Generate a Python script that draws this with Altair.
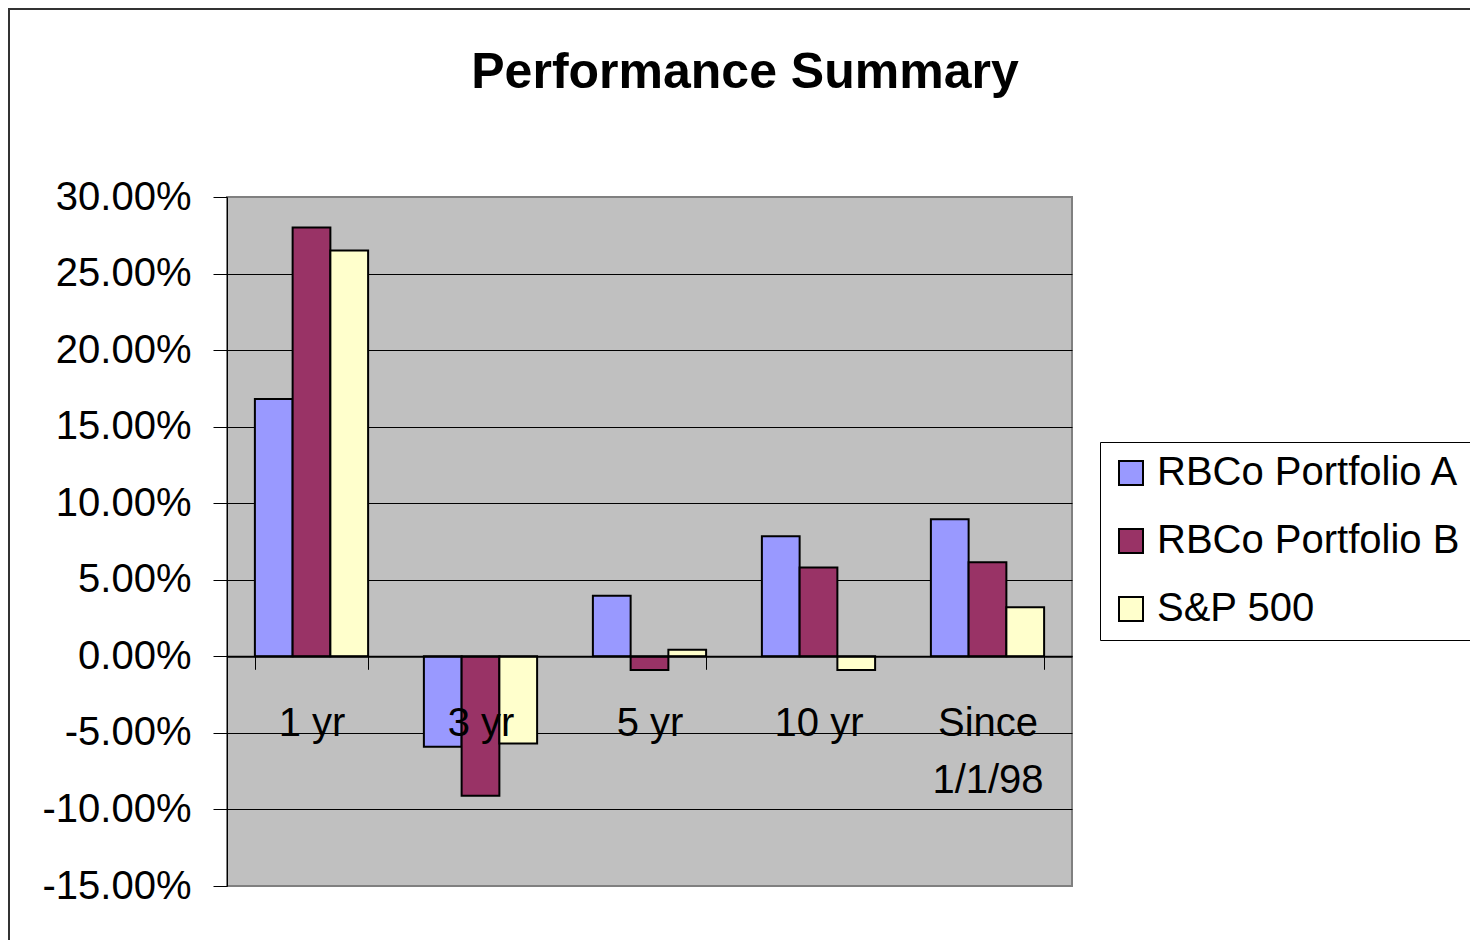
import altair as alt
import pandas as pd

TITLE = "Performance Summary"
periods = ["1 yr", "3 yr", "5 yr", "10 yr", "Since 1/1/98"]
series = ["RBCo Portfolio A", "RBCo Portfolio B", "S&P 500"]
colors = ["#9999FF", "#993366", "#FFFFCC"]
portfolio_a = [16.8, -5.9, 3.95, 7.85, 8.95]
portfolio_b = [28.0, -9.1, -0.9, 5.8, 6.15]
sp500 = [26.5, -5.7, 0.43, -0.9, 3.2]
y_ticks = [-15, -10, -5, 0, 5, 10, 15, 20, 25, 30]

rows = []
for name, vals in zip(series, [portfolio_a, portfolio_b, sp500]):
    for p, v in zip(periods, vals):
        rows.append({"period": p, "series": name, "value": v})
df = pd.DataFrame(rows)

FONT = "Liberation Sans"

bars = alt.Chart(df).mark_bar(stroke="black", strokeWidth=2, opacity=1).encode(
    x=alt.X(
        "period:N",
        sort=periods,
        scale=alt.Scale(paddingInner=0.33, paddingOuter=0.165),
        axis=alt.Axis(
            title=None,
            orient="bottom",
            offset=-229.7,
            tickBand="extent",
            tickSize=13,
            tickColor="black",
            tickWidth=1,
            domainColor="black",
            domainWidth=2,
            labelFont=FONT,
            labelFontSize=40,
            labelColor="black",
            labelAngle=0,
            labelPadding=34,
            labelLineHeight=57,
            labelExpr="datum.label == 'Since 1/1/98' ? ['Since', '1/1/98'] : datum.label",
            grid=False,
            zindex=1,
        ),
    ),
    xOffset=alt.XOffset("series:N", sort=series, scale=alt.Scale(paddingInner=0, paddingOuter=0)),
    y=alt.Y(
        "value:Q",
        scale=alt.Scale(domain=[-15, 30], nice=False, zero=False),
        axis=alt.Axis(
            title=None,
            values=y_ticks,
            tickSize=14,
            tickColor="black",
            domainColor="black",
            domainWidth=1,
            labelFont=FONT,
            labelFontSize=40,
            labelColor="black",
            labelPadding=22,
            labelExpr="(datum.value < 0 ? '-' : '') + format(abs(datum.value), '.2f') + '%'",
            gridColor={"condition": {"test": "datum.value == 30 || datum.value == -15", "value": "#808080"}, "value": "black"},
            gridWidth=1,
            gridOpacity=1,
        ),
    ),
    color=alt.Color(
        "series:N",
        sort=series,
        scale=alt.Scale(domain=series, range=colors),
        legend=alt.Legend(
            title=None,
            orient="none",
            legendX=873,
            legendY=245,
            labelFont=FONT,
            labelFontSize=40,
            labelColor="black",
            labelLimit=400,
            labelOffset=6,
            symbolType="square",
            symbolSize=576,
            symbolStrokeColor="black",
            symbolStrokeWidth=2,
            symbolOpacity=1,
            rowPadding=28,
            padding=11,
            strokeColor="black",
            fillColor="white",
        ),
    ),
)

one = pd.DataFrame({"t": [TITLE]})

title = alt.Chart(one).mark_text(
    font=FONT, fontSize=50, fontWeight="bold", color="black",
    align="center", baseline="alphabetic",
).encode(
    x=alt.value(518), y=alt.value(-109), text="t:N"
)

frame = alt.Chart(one).mark_rect(
    fillOpacity=0, stroke="#333333", strokeWidth=2
).encode(
    x=alt.value(-218), y=alt.value(-188), x2=alt.value(2000), y2=alt.value(2000)
)

chart = alt.layer(frame, bars, title).properties(
    width=845,
    height=689,
    padding={"left": 219, "top": 189, "right": 398, "bottom": 54},
    autosize=alt.AutoSizeParams(type="none"),
    background="white",
).configure_view(
    fill="#C0C0C0", stroke="#808080", strokeWidth=2
)

chart.save("out.html", embed_options={"renderer": "svg", "actions": False})
